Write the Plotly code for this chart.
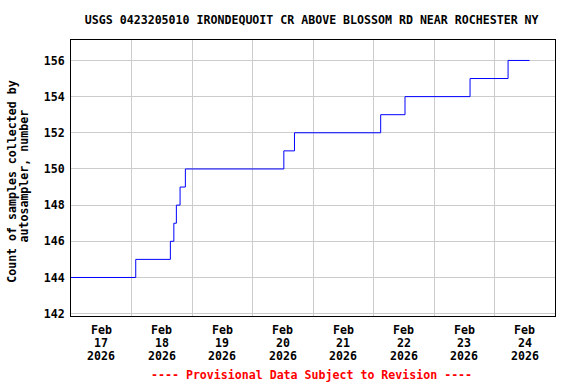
import plotly.graph_objects as go

title_text = "USGS 0423205010 IRONDEQUOIT CR ABOVE BLOSSOM RD NEAR ROCHESTER NY"
y_title_lines = ["Count of samples collected by", "autosampler, number"]
footer = "---- Provisional Data Subject to Revision ----"

times = [
    "2026-02-17 00:00", "2026-02-18 01:41", "2026-02-18 15:25", "2026-02-18 16:48",
    "2026-02-18 17:48", "2026-02-18 19:16", "2026-02-18 21:22", "2026-02-20 12:26",
    "2026-02-20 16:39", "2026-02-22 02:51", "2026-02-22 12:30", "2026-02-23 14:18",
    "2026-02-24 05:23", "2026-02-24 13:55",
]
counts = [144, 145, 146, 147, 148, 149, 150, 151, 152, 153, 154, 155, 156, 156]

tick_month = "Feb"
tick_days = ["17", "18", "19", "20", "21", "22", "23", "24"]
tick_year = "2026"
grid_days = ["18", "19", "20", "21", "22", "23", "24"]
y_ticks = [142, 144, 146, 148, 150, 152, 154, 156]

FONT = "DejaVu Sans Mono"
FS = 11.6
PLOT_TOP, PLOT_BOTTOM, PLOT_LEFT, PLOT_RIGHT = 40, 316, 71, 555
PH = PLOT_BOTTOM - PLOT_TOP
PW = PLOT_RIGHT - PLOT_LEFT


def py(pix):
    return (PLOT_BOTTOM - pix) / PH


def px(pix):
    return (pix - PLOT_LEFT) / PW


bold = dict(family=FONT, size=FS, color="black", weight="bold")

fig = go.Figure()
fig.add_trace(go.Scatter(
    x=times, y=counts, mode="lines", line=dict(color="#0000ff", width=1, shape="hv"),
    showlegend=False, hoverinfo="skip",
))

annotations = []
# x tick labels: three rows per day, centred at noon
row_pix = [330.3, 342.6, 355.8]
for d in tick_days:
    xv = f"2026-02-{d} 12:00"
    for txt, rp in zip([tick_month, d, tick_year], row_pix):
        annotations.append(dict(
            text=txt, x=xv, xref="x", y=py(rp), yref="paper",
            xanchor="center", yanchor="middle", showarrow=False, font=bold,
        ))
# y-axis title, two rotated lines
for txt, xp, yp in zip(y_title_lines, [12.0, 23.5], [181.8, 176.0]):
    annotations.append(dict(
        text=txt, x=px(xp), xref="paper", y=py(yp), yref="paper", textangle=-90,
        xanchor="center", yanchor="middle", showarrow=False, font=bold,
    ))
annotations.append(dict(
    text=footer, xref="paper", yref="paper", x=px(311.2), y=py(375),
    xanchor="center", yanchor="middle", showarrow=False,
    font=dict(family=FONT, size=FS, color="#ff0000", weight="bold"),
))

fig.update_layout(
    width=576, height=384,
    margin=dict(l=PLOT_LEFT, r=576 - PLOT_RIGHT, t=PLOT_TOP, b=384 - PLOT_BOTTOM),
    paper_bgcolor="white", plot_bgcolor="white",
    font=bold,
    title=dict(text=title_text, x=311.7 / 576, xanchor="center", y=1 - 20 / 384, yanchor="middle",
               font=bold),
    xaxis=dict(
        type="date", range=["2026-02-17 00:00", "2026-02-25 00:00"],
        showticklabels=False, showgrid=False, ticks="",
        showline=True, linecolor="black", linewidth=1, mirror=True, zeroline=False,
        minor=dict(tickmode="array", tickvals=[f"2026-02-{d} 00:00" for d in grid_days],
                   showgrid=True, gridcolor="#cccccc", gridwidth=1, ticks=""),
    ),
    yaxis=dict(
        range=[141.87, 157.13], tickmode="array", tickvals=y_ticks,
        showgrid=True, gridcolor="#cccccc", gridwidth=1, ticks="",
        showline=True, linecolor="black", linewidth=1, mirror=True, zeroline=False,
        tickfont=bold, ticklabelstandoff=3,
    ),
    annotations=annotations,
)

fig.write_html("out.html")
